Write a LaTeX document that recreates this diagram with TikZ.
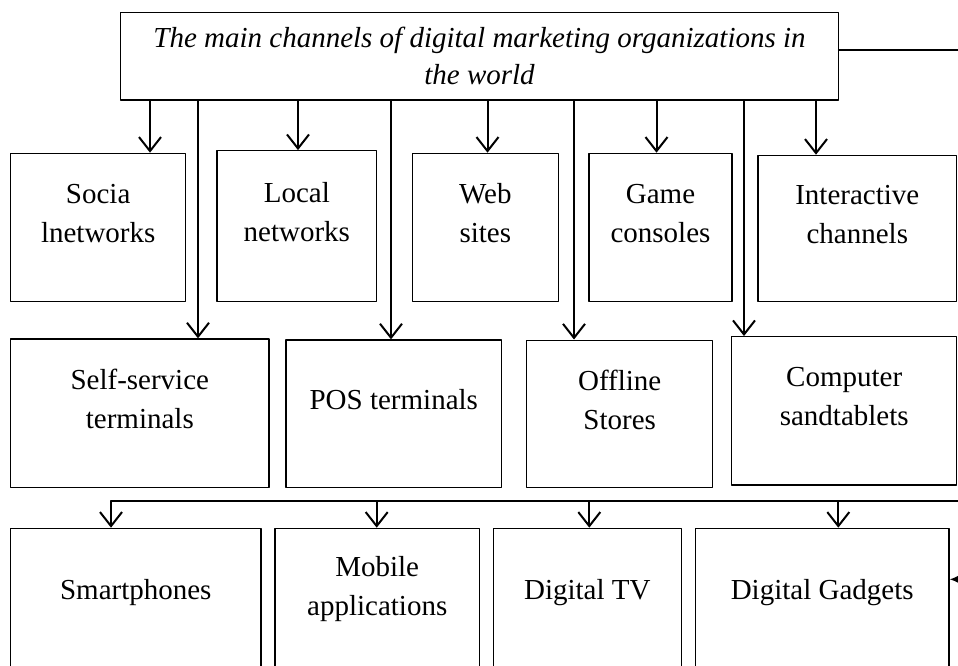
\documentclass[tikz,border=0pt]{standalone}
\usepackage{fontspec}
\setmainfont{Liberation Serif}
\usetikzlibrary{arrows.meta}
\tikzset{
    box/.style={draw,line width=1.2pt,inner sep=0pt},%channel boxes
    lbl/.style={align=center,yshift=14pt,font=\fontsize{29}{39}\selectfont},
    conn/.style={line width=2pt}
    }

\begin{document}
\begin{tikzpicture}[line cap=round,line join=round,>={Straight Barb[length=14pt,width=22pt]},x=1pt,y=-1pt]
\useasboundingbox (0,0) rectangle (958,666);
\clip (0,0) rectangle (958,666);
% head box
\node[box,minimum width=717.6pt,minimum height=87.7pt,align=center,font=\fontsize{29}{36.7}\selectfont\itshape] (title) at (479.5,56.2)
    {The main channels of digital marketing organizations in\\the world};
% first row
\node[box,minimum width=175pt,minimum height=148.4pt,label={[lbl]center:Socia\\lnetworks}] (soc) at (98.2,227.5) {};
\node[box,minimum width=159.7pt,minimum height=151pt,label={[lbl]center:Local\\networks}] (loc) at (296.8,226.2) {};
\node[box,minimum width=146pt,minimum height=148.4pt,label={[lbl]center:Web\\sites}] (web) at (485.3,227.5) {};
\node[box,minimum width=143pt,minimum height=148.4pt,label={[lbl]center:Game\\consoles}] (game) at (660.5,227.5) {};
\node[box,minimum width=198.7pt,minimum height=146.4pt,label={[lbl]center:Interactive\\channels}] (inter) at (857.3,228.5) {};
% second row
\node[box,minimum width=258.3pt,minimum height=148.7pt,label={[lbl]center:Self-service\\terminals}] (self) at (139.8,413.3) {};
\node[box,minimum width=215.7pt,minimum height=147.7pt,label={[lbl]center:POS terminals}] (pos) at (393.8,413.8) {};
\node[box,minimum width=186pt,minimum height=147pt,label={[lbl]center:Offline\\Stores}] (off) at (619.7,413.6) {};
\node[box,minimum width=225pt,minimum height=148.3pt,label={[lbl]center:Computer\\sandtablets}] (comp) at (844.2,410.8) {};
% third row
\node[box,minimum width=250.3pt,minimum height=150pt,label={[lbl,yshift=-3pt]center:Smartphones}] (smart) at (135.8,603.3) {};
\node[box,minimum width=204.3pt,minimum height=150pt,label={[lbl]center:Mobile\\applications}] (mob) at (377.2,603.3) {};
\node[box,minimum width=188pt,minimum height=150pt,label={[lbl,yshift=-3pt]center:Digital TV}] (tv) at (587.3,603.3) {};
\node[box,minimum width=253.7pt,minimum height=150pt,label={[lbl,yshift=-3pt]center:Digital Gadgets}] (gad) at (822.2,603.3) {};
% arrows from the head box
\foreach \x/\n in {150/soc,298/loc,487.5/web,656.5/game,816/inter}
\draw[conn,->] (\x,0 |- title.south) -- (\x,0 |- \n.north);
\foreach \x/\n in {198/self,391/pos,574/off,744/comp}
\draw[conn,->] (\x,0 |- title.south) -- (\x,0 |- \n.north);
% right rail and the lower bus
\coordinate (jt) at (975,50);
\coordinate (jb) at (975,579.3);
\coordinate (bus) at (111,501);
\draw[conn] (title.east |- jt) -- (jt) -- (jb);
\draw[line width=1.5pt,-{Latex[length=10pt,width=9pt]}] (jb) -- (gad.east |- jb);
\draw[conn] (jt |- bus) -- (bus);
\foreach \x/\n in {111/smart,376.7/mob,589.3/tv,838.3/gad}
\draw[conn,->] (\x,0 |- bus) -- (\x,0 |- \n.north);
\end{tikzpicture}
\end{document}
